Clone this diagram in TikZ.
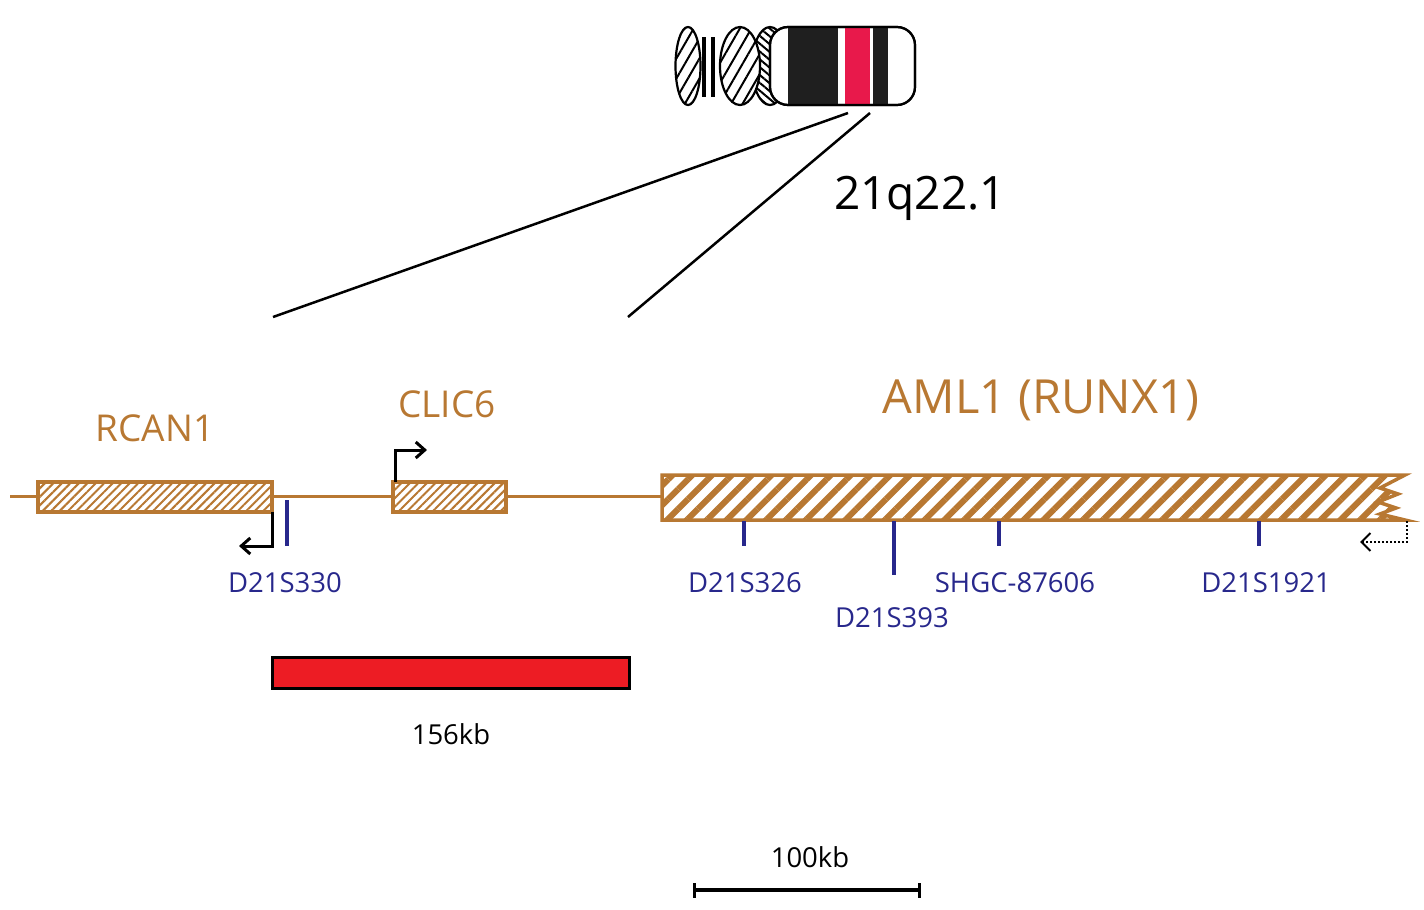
\documentclass[tikz,border=0pt]{standalone}
\usepackage{fontspec}
\setmainfont{Open Sans}
\usetikzlibrary{patterns,patterns.meta,arrows.meta}
\definecolor{gene}{RGB}{184,120,50}
\definecolor{mk}{RGB}{40,40,140}
\definecolor{chred}{RGB}{232,25,75}
\begin{document}
\begin{tikzpicture}[x=1pt,y=-1pt,
 gbox/.style={draw=gene,line width=3.5pt,outer sep=0pt,fill=white,postaction={pattern={Lines[angle=45,distance=6pt,line width=2pt]},pattern color=gene}},
 stsmark/.style={draw=mk,line width=3.5pt},
 lab/.style={text=mk,font=\fontsize{27.5}{30}\selectfont,inner sep=0pt},
 glab/.style={text=gene,inner sep=0pt},
 tss/.style={draw=black,line width=3pt,-{Straight Barb[length=9pt,width=16pt,line width=3pt]}},
 chr/.style={draw=black,line width=2.2pt}]
\useasboundingbox (0,0) rectangle (1424,910);
% chromosome
\draw[chr,fill=white,postaction={pattern={Lines[angle=60,distance=10pt,line width=2pt]}}] (688,66) ellipse [x radius=12.5,y radius=39];
\draw[line width=3.5pt] (704,37)--(704,97) (713,37)--(713,97);
\draw[chr,fill=white,postaction={pattern={Lines[angle=-40,distance=6pt,line width=2pt]}}] (770,66) ellipse [x radius=18,y radius=39];
\draw[chr,fill=white,postaction={pattern={Lines[angle=60,distance=10pt,line width=2pt]}}] (740,66) ellipse [x radius=20,y radius=39];
\node[chr,fill=white,rounded corners=18pt,minimum width=145pt,minimum height=78pt,inner sep=0pt] (body) at (842.5,66) {};
\fill[black!88] (788,28) rectangle (838,104);
\fill[chred] (845,28) rectangle (870,104);
\fill[black!88] (873,28) rectangle (888,104);
\draw[chr,rounded corners=18pt] (770,27) rectangle (915,105);
\coordinate (z1) at (848,113); \coordinate (z2) at (870,113);
\coordinate (e1) at (273,317); \coordinate (e2) at (628,317);
\draw[line width=2.5pt] (z1)--(e1) (z2)--(e2);
\node[inner sep=0pt,font=\fontsize{46}{48}\selectfont] (band) at (920,198) {21q22.1};
% gene line
\coordinate (l0) at (10,496); \coordinate (l1) at (662,496);
\draw[gene,line width=3pt] (l0)--(l1);
\node[gbox,minimum width=234pt,minimum height=30pt,inner sep=0pt] (rcan) at (155,497) {};
\node[gbox,minimum width=113pt,minimum height=30pt,inner sep=0pt] (clic) at (449.5,497) {};
\draw[gene,line width=3.5pt,fill=white,postaction={pattern={Lines[angle=45,distance=14pt,line width=6pt]},pattern color=gene}]
 (662,475) -- (1405,475) -- (1380,488) -- (1398,494) -- (1378,502) -- (1396,508) -- (1380,514) -- (1405,520) -- (662,520) -- cycle;
\node[glab,font=\fontsize{37}{40}\selectfont] (lr) at (155,428) {RCAN1};
\node[glab,font=\fontsize{37}{40}\selectfont] (lc) at (447,404) {CLIC6};
\node[glab,font=\fontsize{47}{50}\selectfont] (la) at (1041,400) {AML1 (RUNX1)};
% TSS arrows
\draw[tss] (rcan.south east) -- ++(0,34) -- ++(-33,0);
\draw[tss] (clic.north west) ++(2,0) -- ++(0,-32) -- ++(32,0);
\coordinate (d0) at (1407,521);
\draw[line width=2pt,dotted,-{Straight Barb[length=9pt,width=18pt]}] (d0) -- (1407,542) -- (1360,542);
% markers
\draw[stsmark] (287,500)--(287,546);
\draw[stsmark] (744,521)--(744,546);
\draw[stsmark] (894,521)--(894,575);
\draw[stsmark] (999,521)--(999,546);
\draw[stsmark] (1259,521)--(1259,546);
\node[lab] (m1) at (285,583) {D21S330};
\node[lab] (m2) at (745,583) {D21S326};
\node[lab] (m3) at (892,618) {D21S393};
\node[lab] (m4) at (1015,583) {SHGC-87606};
\node[lab] (m5) at (1266,583) {D21S1921};
% deletion
\node[draw=black,line width=3pt,fill={rgb,255:red,237;green,28;blue,36},minimum width=357pt,minimum height=31pt,inner sep=0pt] (del) at (450.5,672.5) {};
\node[inner sep=0pt,font=\fontsize{27.5}{30}\selectfont] (dl) at (451,734) {156kb};
% scale
\draw[line width=3.5pt] (693,890)--(921,890) (694.5,883)--(694.5,898) (919.5,883)--(919.5,898);
\node[inner sep=0pt,font=\fontsize{27.5}{30}\selectfont] (sl) at (810,857) {100kb};
\end{tikzpicture}
\end{document}
